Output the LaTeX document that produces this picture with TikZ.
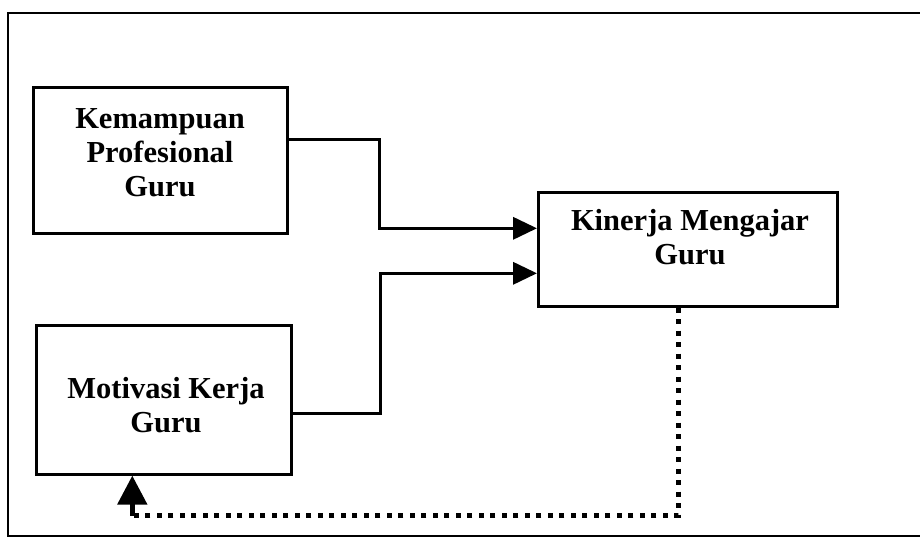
\documentclass[tikz,border=0pt]{standalone}
\usepackage{fontspec}
\setmainfont{Liberation Serif}
\usetikzlibrary{arrows.meta}
\begin{document}
\begin{tikzpicture}[x=1pt,y=-1pt,
  boxnode/.style={draw,line width=2.6pt,inner sep=0pt,anchor=north west},
  lbl/.style={font=\bfseries\fontsize{30.5}{34}\selectfont,align=center,inner sep=0pt},
  conn/.style={line width=3.6pt,-{Triangle[length=24pt,width=22pt]}},
  dotline/.style={line width=5.5pt,dash pattern=on 5pt off 6.5pt},
  uparrow/.style={line width=5pt,-{Triangle[length=29pt,width=29pt]}}]
\useasboundingbox (0,0) rectangle (920,541);
\draw[line width=2.4pt] (925,13) -- (8,13) -- (8,536) -- (925,536);
\node[boxnode,minimum width=254pt,minimum height=146pt] (b1) at (32,86) {};
\node[boxnode,minimum width=255pt,minimum height=149pt] (b2) at (35,324) {};
\node[boxnode,minimum width=299pt,minimum height=114pt] (b3) at (537,191) {};
\node[lbl] (t1) at (160,153) {Kemampuan\\Profesional\\Guru};
\node[lbl] (t2) at (166,405) {Motivasi Kerja\\Guru};
\node[lbl] (t3) at (690,237) {Kinerja Mengajar\\Guru};
\draw[conn] ([yshift=21pt]b1.east) -- ++(91,0) |- ([yshift=21pt]b3.west);
\draw[conn] ([yshift=-13.5pt]b2.east) -- ++(88,0) |- ([yshift=-24pt]b3.west);
\coordinate (c) at ([xshift=-31.5pt,yshift=-40pt]b2.south);
\draw[dotline] ([xshift=-9.5pt]b3.south) |- (c);
\draw[uparrow] (c) -- ([xshift=-31.5pt]b2.south);
\end{tikzpicture}
\end{document}
